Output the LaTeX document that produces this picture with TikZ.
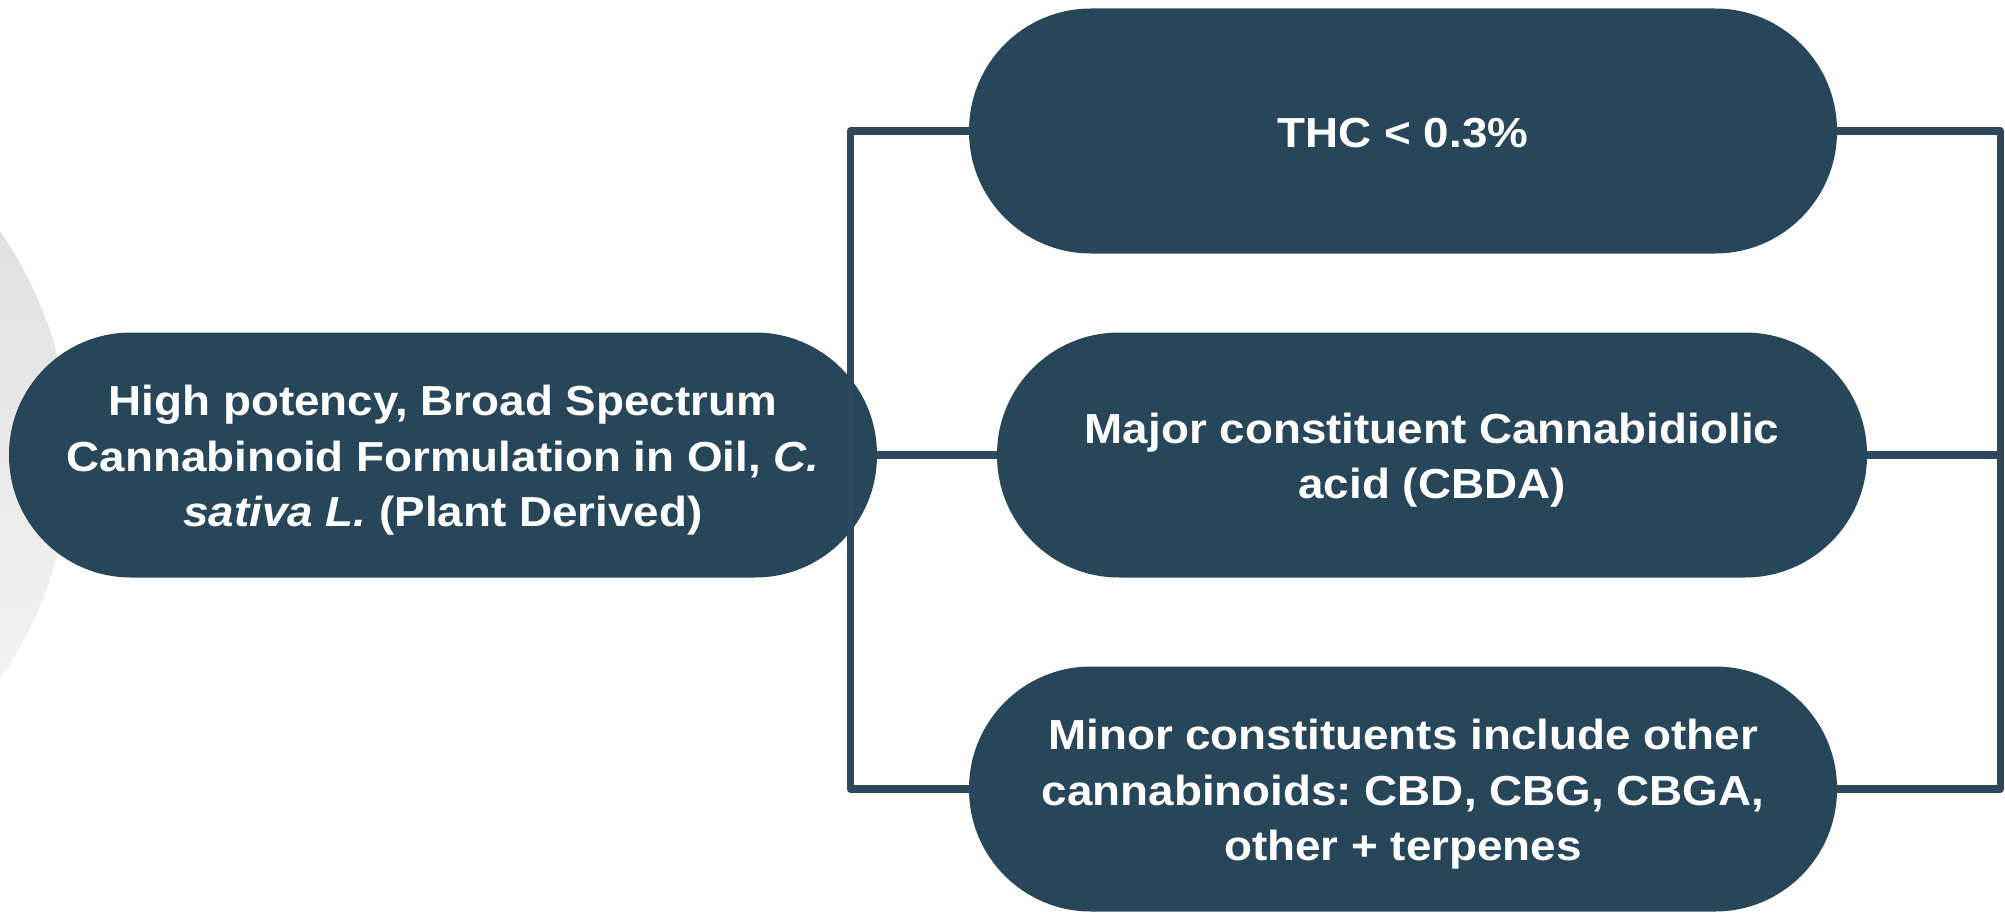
\documentclass[tikz,border=0pt]{standalone}
\usepackage{fontspec}
\setmainfont{Liberation Sans}[FakeStretch=1.09]
\definecolor{boxblue}{RGB}{40,70,90}
\definecolor{lineblue}{RGB}{44,72,90}
\newcommand\pline[1]{\raisebox{0pt}[32pt][0pt]{#1}}
\begin{document}
\begin{tikzpicture}[x=1pt,y=-1pt,
  pill/.style={rectangle, rounded corners=122pt, minimum width=868pt, minimum height=245pt,
    inner sep=0pt, fill=boxblue, text=white, align=center,
    font=\fontsize{42}{55.5}\selectfont\bfseries\frenchspacing},
  conn/.style={draw=lineblue, line width=7.5pt, line join=round}]
\useasboundingbox (0,0) rectangle (2005,915);
\begin{scope}
  \clip (0,0) rectangle (2005,915);
  \shade[top color=black!14, bottom color=black!3] (-323,455) circle[radius=393];
\end{scope}
\node[pill] (main) at (443,455) {\pline{High potency, Broad Spectrum}\\\pline{Cannabinoid Formulation in Oil, \textit{C.}}\\\pline{\textit{sativa L.} (Plant Derived)}};
\node[pill] (top) at (1403,131) {\pline{THC < 0.3\%}};
\node[pill, minimum width=870pt] (mid) at (1432,455) {\pline{Major constituent Cannabidiolic}\\\pline{acid (CBDA)}};
\node[pill] (bot) at (1403,789) {\pline{Minor constituents include other}\\\pline{cannabinoids: CBD, CBG, CBGA,}\\\pline{other + terpenes}};
\coordinate (lt) at (850.5,131);
\coordinate (lb) at (850.5,789);
\coordinate (rt) at (2000.5,131);
\coordinate (rm) at (2000.5,455);
\coordinate (rb) at (2000.5,789);
\draw[conn] (top.west) -- (lt) -- (lb) -- (bot.west);
\draw[conn] (main.east) -- (mid.west);
\draw[conn] (top.east) -- (rt) -- (rb) -- (bot.east);
\draw[conn] (mid.east) -- (rm);
\end{tikzpicture}
\end{document}
